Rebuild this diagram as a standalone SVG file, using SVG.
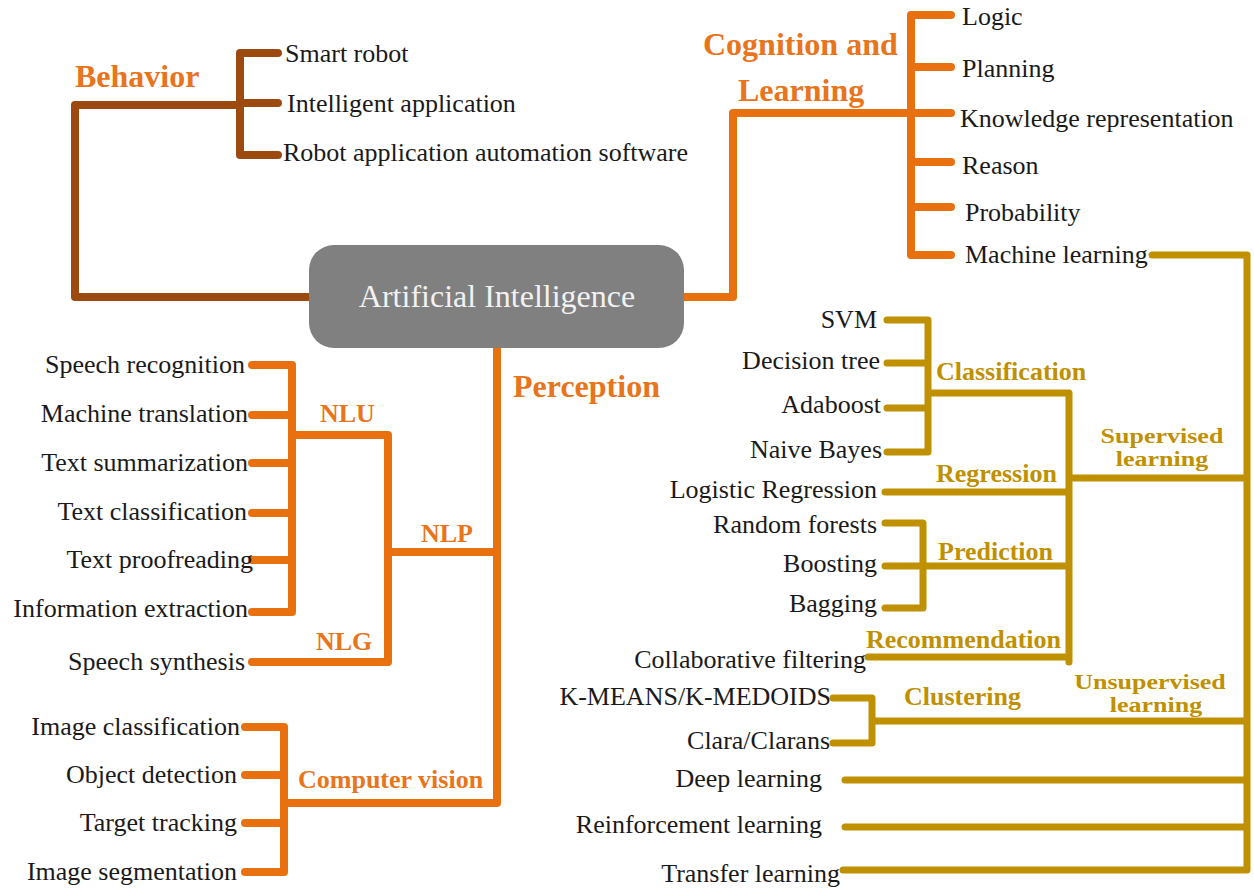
<svg xmlns="http://www.w3.org/2000/svg" width="1254" height="890" viewBox="0 0 1254 890">
<style>
.c{fill:none;stroke-linecap:round;stroke-linejoin:round}
.br{stroke:#9C4A10;stroke-width:8}
.or{stroke:#E8700F;stroke-width:8}
.go{stroke:#BF9000;stroke-width:7}
.t{font-family:"Liberation Serif","Times New Roman",serif;font-size:26px;fill:#1a1a1a}
.e{text-anchor:end}
.lo{font-family:"Liberation Serif","Times New Roman",serif;font-weight:bold;fill:#E8741C}
.lg{font-family:"Liberation Serif","Times New Roman",serif;font-weight:bold;font-size:26px;fill:#BF9000}
.big{font-size:32px}
.sm{font-size:26px}
</style>
<rect width="1254" height="890" fill="#ffffff"/>
<g id="connectors">
  <path class="c br" d="M310,297 H75 V105 H240 M278,53 H240 V155 H278 M240,103 H278"/>
  <path class="c or" d="M683,297 H733 V113 H911 M951,15 H911 V255 H951 M911,67 H951 M911,113 H951 M911,162 H951 M911,207 H951"/>
  <path class="c or" d="M497,348 V803 H284 M497,552 H388 M388,435 V662 H252 M388,435 H292 M252,365 H292 V612 H252 M252,415 H292 M252,463 H292 M252,513 H292 M252,560 H292 M245,727 H284 V872 H245 M245,775 H284 M245,823 H284"/>
  <path class="c go" d="M1152,255 H1247 V870 H843 M1247,478 H1069 M1069,393 V662 M928,393 H1069 M887,320 H928 V452 H887 M887,363 H928 M887,408 H928 M885,492 H1069 M885,523 H923 V608 H885 M885,566 H1069 M868,657 H1069 M1247,721 H872 M833,698 H872 V743 H833 M845,780 H1247 M845,827 H1247"/>
</g>
<g id="root">
  <rect x="309" y="245" width="375" height="103" rx="25" fill="#808080"/>
  <text x="497" y="307" text-anchor="middle" font-family="Liberation Serif, Times New Roman, serif" font-size="32" fill="#F2F2F2">Artificial Intelligence</text>
</g>
<g id="behavior">
  <text class="lo big" x="75" y="87">Behavior</text>
  <text class="t" x="285" y="62">Smart robot</text>
  <text class="t" x="287" y="112">Intelligent application</text>
  <text class="t" x="283" y="161">Robot application automation software</text>
</g>
<g id="cognition">
  <text class="lo big"><tspan x="703" y="55">Cognition and</tspan><tspan x="738" y="101">Learning</tspan></text>
  <text class="t" x="962" y="25">Logic</text>
  <text class="t" x="962" y="77">Planning</text>
  <text class="t" x="960" y="127">Knowledge representation</text>
  <text class="t" x="962" y="174">Reason</text>
  <text class="t" x="965" y="221">Probability</text>
  <text class="t" x="965" y="263">Machine learning</text>
</g>
<g id="perception">
  <text class="lo big" x="513" y="397">Perception</text>
</g>
<g id="nlp">
  <text class="lo sm" x="421" y="542">NLP</text>
  <text class="lo sm" x="320" y="422">NLU</text>
  <text class="lo sm" x="316" y="650">NLG</text>
  <text class="t e" x="245" y="373">Speech recognition</text>
  <text class="t e" x="248" y="422">Machine translation</text>
  <text class="t e" x="248" y="471">Text summarization</text>
  <text class="t e" x="247" y="520">Text classification</text>
  <text class="t e" x="253" y="568">Text proofreading</text>
  <text class="t e" x="248" y="617">Information extraction</text>
  <text class="t e" x="245" y="670">Speech synthesis</text>
</g>
<g id="computer-vision">
  <text class="lo sm" x="298" y="788">Computer vision</text>
  <text class="t e" x="240" y="735">Image classification</text>
  <text class="t e" x="237" y="783">Object detection</text>
  <text class="t e" x="237" y="831">Target tracking</text>
  <text class="t e" x="237" y="880">Image segmentation</text>
</g>
<g id="supervised">
  <text class="lg" text-anchor="middle" transform="translate(1162,443) scale(1,0.8)"><tspan x="0" y="0">Supervised</tspan><tspan x="0" y="28.75">learning</tspan></text>
  <text class="lg" x="936" y="380">Classification</text>
  <text class="lg" x="936" y="482">Regression</text>
  <text class="lg" x="938" y="560">Prediction</text>
  <text class="lg" x="866" y="648">Recommendation</text>
  <text class="t e" x="877" y="328">SVM</text>
  <text class="t e" x="880" y="369">Decision tree</text>
  <text class="t e" x="881" y="413">Adaboost</text>
  <text class="t e" x="882" y="458">Naive Bayes</text>
  <text class="t e" x="877" y="498">Logistic Regression</text>
  <text class="t e" x="877" y="533">Random forests</text>
  <text class="t e" x="877" y="572">Boosting</text>
  <text class="t e" x="877" y="612">Bagging</text>
  <text class="t e" x="866" y="668">Collaborative filtering</text>
</g>
<g id="unsupervised">
  <text class="lg" text-anchor="middle" transform="translate(1150,689) scale(1,0.8)"><tspan x="0" y="0">Unsupervised</tspan><tspan x="6" y="28.75">learning</tspan></text>
  <text class="lg" x="904" y="705">Clustering</text>
  <text class="t e" x="831" y="705">K-MEANS/K-MEDOIDS</text>
  <text class="t e" x="830" y="749">Clara/Clarans</text>
</g>
<g id="other-learning">
  <text class="t e" x="822" y="787">Deep learning</text>
  <text class="t e" x="822" y="833">Reinforcement learning</text>
  <text class="t e" x="840" y="882">Transfer learning</text>
</g>
</svg>
